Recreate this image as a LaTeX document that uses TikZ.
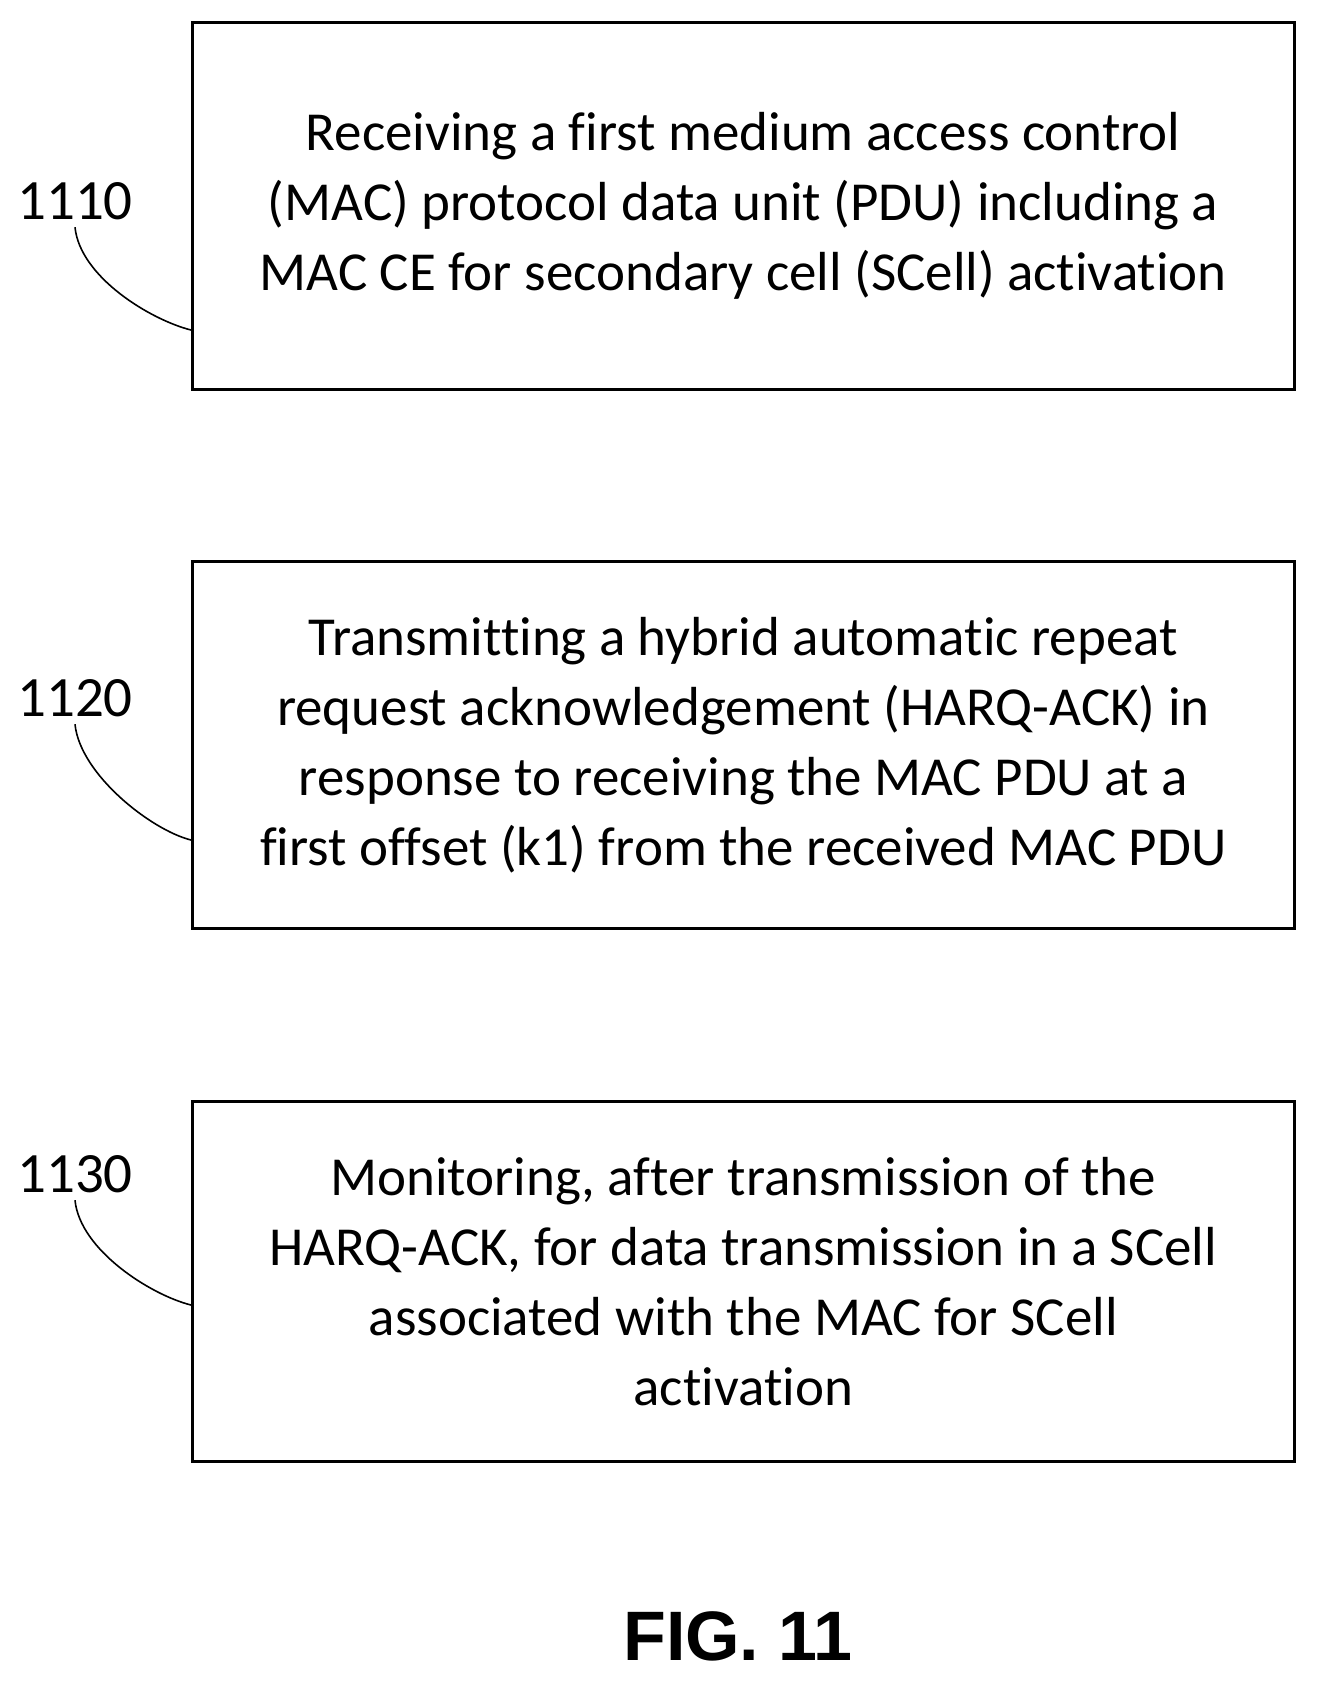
\documentclass[tikz,border=0pt]{standalone}
\usepackage{fontspec}
\setmainfont[Ligatures=NoCommon]{Carlito}
\newfontfamily\figfont{Liberation Sans}
\begin{document}
\begin{tikzpicture}[x=1pt,y=-1pt,
  box/.style={draw,line width=2.5pt,minimum width=1102pt,anchor=north west,inner sep=0pt,align=center,font=\fontsize{55}{70}\selectfont},
  lab/.style={font=\fontsize{57}{60}\selectfont},
  lead/.style={line width=1.6pt}]
\useasboundingbox (0,0) rectangle (1317,1684);
\node[box,minimum height=367pt] (b1) at (191,21) {Receiving a first medium access control\\(MAC) protocol data unit (PDU) including a\\MAC CE for secondary cell (SCell) activation};
\node[box,minimum height=367pt] (b2) at (191,560) {Transmitting a hybrid automatic repeat\\request acknowledgement (HARQ-ACK) in\\response to receiving the MAC PDU at a\\first offset (k1) from the received MAC PDU};
\node[box,minimum height=360pt] (b3) at (191,1100) {Monitoring, after transmission of the\\HARQ-ACK, for data transmission in a SCell\\associated with the MAC for SCell\\activation};
\node[lab] (l1) at (75,201) {1110};
\node[lab] (l2) at (75,698) {1120};
\node[lab] (l3) at (75,1174) {1130};
\coordinate (c1) at (b1.west |- 0,330);
\coordinate (c2) at (b2.west |- 0,840);
\coordinate (c3) at (b3.west |- 0,1305);
\draw[lead] (l1.south) ++(0,4) .. controls +(5,50) and +(-40,-10) .. (c1);
\draw[lead] (l2.south) ++(0,4) .. controls +(5,50) and +(-40,-10) .. (c2);
\draw[lead] (l3.south) ++(0,4) .. controls +(5,50) and +(-40,-10) .. (c3);
\node[font=\figfont\bfseries\fontsize{70}{75}\selectfont] (fig) at (738,1636) {FIG. 11};
\end{tikzpicture}
\end{document}
